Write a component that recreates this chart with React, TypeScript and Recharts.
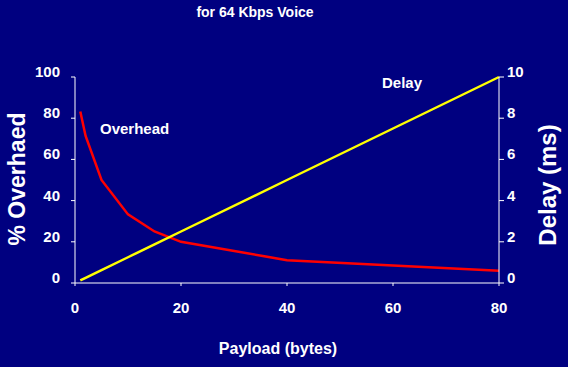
import { Label, Line, LineChart, XAxis, YAxis } from "recharts";

const payload = [1, 2, 5, 10, 15, 20, 40, 80];
const overhead = [83.3, 71.4, 50, 33.3, 25, 20, 11.1, 5.9];
const delay = [0.125, 0.25, 0.625, 1.25, 1.875, 2.5, 5, 10];

const xTicks = [0, 20, 40, 60, 80];
const leftTicks = [0, 20, 40, 60, 80, 100];
const rightTicks = [0, 2, 4, 6, 8, 10];

const data = payload.map((p, i) => ({
  payload: p,
  overhead: overhead[i],
  delay: delay[i],
}));

const BG = "#000080";
const FONT = "'Liberation Sans', Arial, sans-serif";

const tickText = (anchor: "start" | "middle" | "end", dy: number) => (props: any) => {
  const { x, y, payload } = props;
  return (
    <text
      x={x}
      y={y}
      dy={dy}
      textAnchor={anchor}
      fill="#fff"
      fontSize={15}
      fontWeight="bold"
      fontFamily={FONT}
    >
      {payload.value}
    </text>
  );
};

const App = () => {
  return (
    <div
      style={{
        position: "fixed",
        left: 0,
        top: 0,
        width: 568,
        height: 367,
        background: BG,
        fontFamily: FONT,
      }}
    >
      <div
        style={{
          position: "absolute",
          left: 155,
          width: 200,
          top: 4,
          textAlign: "center",
          color: "#fff",
          fontSize: 14,
          fontWeight: "bold",
        }}
      >
        for 64 Kbps Voice
      </div>
      <div
        style={{
          position: "absolute",
          left: 100,
          top: 120,
          color: "#fff",
          fontSize: 15,
          fontWeight: "bold",
        }}
      >
        Overhead
      </div>
      <div
        style={{
          position: "absolute",
          left: 382,
          top: 74,
          color: "#fff",
          fontSize: 15,
          fontWeight: "bold",
        }}
      >
        Delay
      </div>
      <LineChart
        width={568}
        height={367}
        data={data}
        margin={{ top: 77, right: 0, bottom: 0, left: 0 }}
      >
        <XAxis
          dataKey="payload"
          type="number"
          domain={[0, 80]}
          ticks={xTicks}
          stroke="#fff"
          tickSize={3}
          tickMargin={16}
          height={84}
          tick={tickText("middle", 11)}
        >
          <Label
            content={() => (
              <text
                x={278}
                y={354}
                textAnchor="middle"
                fill="#fff"
                fontSize={16}
                fontWeight="bold"
                fontFamily={FONT}
              >
                Payload (bytes)
              </text>
            )}
          />
        </XAxis>
        <YAxis
          yAxisId="left"
          orientation="left"
          domain={[0, 100]}
          ticks={leftTicks}
          stroke="#fff"
          width={75}
          tickSize={4}
          tickMargin={11}
          tick={tickText("end", 0)}
        >
          <Label
            content={() => (
              <text
                x={25}
                y={179}
                transform="rotate(-90 25 179)"
                textAnchor="middle"
                fill="#fff"
                fontSize={23}
                fontWeight="bold"
                fontFamily={FONT}
              >
                % Overhaed
              </text>
            )}
          />
        </YAxis>
        <YAxis
          yAxisId="right"
          orientation="right"
          domain={[0, 10]}
          ticks={rightTicks}
          stroke="#fff"
          width={69}
          tickSize={5}
          tickMargin={3}
          tick={tickText("start", 0)}
        >
          <Label
            content={() => (
              <text
                x={556}
                y={185}
                transform="rotate(-90 556 185)"
                textAnchor="middle"
                fill="#fff"
                fontSize={24}
                fontWeight="bold"
                fontFamily={FONT}
              >
                Delay (ms)
              </text>
            )}
          />
        </YAxis>
        <Line
          yAxisId="left"
          dataKey="overhead"
          type="linear"
          stroke="#ff0000"
          strokeWidth={2.5}
          dot={false}
          isAnimationActive={false}
        />
        <Line
          yAxisId="right"
          dataKey="delay"
          type="linear"
          stroke="#ffff00"
          strokeWidth={2.5}
          dot={false}
          isAnimationActive={false}
        />
      </LineChart>
    </div>
  );
};

export default App;
